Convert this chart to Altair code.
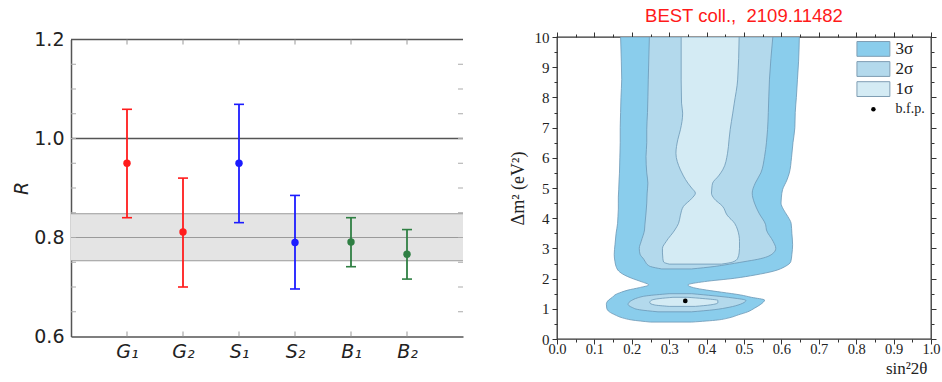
import altair as alt
import pandas as pd

# ---------------- left panel: ratio R for each measurement ----------------
labels = ["G₁", "G₂", "S₁", "S₂", "B₁", "B₂"]
source = ["GALLEX", "GALLEX", "SAGE", "SAGE", "BEST", "BEST"]
r_center = [0.950, 0.811, 0.950, 0.790, 0.791, 0.766]
r_low = [0.840, 0.700, 0.830, 0.696, 0.741, 0.716]
r_high = [1.059, 0.920, 1.069, 0.885, 0.840, 0.816]

band_low, band_mid, band_high = 0.753, 0.800, 0.848
unity = 1.0

r_domain = [0.6, 1.2]
r_labels = [0.6, 0.8, 1.0, 1.2]
r_minor = [0.65, 0.70, 0.75, 0.80, 0.85, 0.90, 0.95, 1.00, 1.05, 1.10, 1.15]

source_names = ["GALLEX", "SAGE", "BEST"]
source_colors = ["#ff1c1c", "#1c1cff", "#2f7f43"]

# ---------------- right panel: allowed regions in (sin^2 2θ, Δm^2) ----------------
# each region: Δm^2 rows with the left / right sin^2 2θ edge of the region
s3_y = [0.56, 0.63, 0.70, 0.80, 0.90, 1.02, 1.15, 1.29, 1.38, 1.46, 1.55, 1.62, 1.70, 1.79,
        1.90, 2.01, 2.12, 2.25, 2.40, 2.56, 2.80, 3.12, 3.50, 3.83, 4.06, 4.30, 4.50, 4.70,
        4.94, 5.27, 5.49, 6.00, 6.50, 7.00, 7.50, 8.00, 8.60, 9.20, 10.0]
s3_lo = [0.25, 0.20, 0.175, 0.155, 0.14, 0.133, 0.132, 0.138, 0.148, 0.155, 0.172, 0.19, 0.22, 0.245,
         0.225, 0.20, 0.18, 0.165, 0.158, 0.155, 0.153, 0.155, 0.158, 0.162, 0.163, 0.164, 0.164, 0.164,
         0.165, 0.166, 0.167, 0.168, 0.169, 0.169, 0.170, 0.171, 0.173, 0.172, 0.170]
s3_hi = [0.36, 0.43, 0.46, 0.485, 0.51, 0.528, 0.545, 0.555, 0.52, 0.49, 0.44, 0.40, 0.365, 0.35,
         0.394, 0.474, 0.53, 0.58, 0.61, 0.625, 0.628, 0.63, 0.628, 0.626, 0.617, 0.605, 0.599, 0.600,
         0.603, 0.615, 0.621, 0.627, 0.631, 0.636, 0.637, 0.640, 0.643, 0.646, 0.648]

s2_up_y = [2.32, 2.40, 2.45, 2.56, 2.64, 2.81, 3.00, 3.23, 3.61, 3.78, 4.17, 4.50, 4.83, 5.16,
           5.50, 6.04, 6.50, 6.93, 7.50, 8.58, 10.0]
s2_up_lo = [0.28, 0.25, 0.243, 0.236, 0.232, 0.222, 0.220, 0.225, 0.234, 0.235, 0.238, 0.240, 0.241, 0.243,
            0.240, 0.238, 0.240, 0.240, 0.242, 0.244, 0.247]
s2_up_hi = [0.36, 0.42, 0.447, 0.50, 0.537, 0.575, 0.585, 0.578, 0.560, 0.558, 0.540, 0.528, 0.522, 0.530,
            0.545, 0.555, 0.560, 0.563, 0.565, 0.568, 0.577]

s2_low_y = [0.90, 0.97, 1.05, 1.15, 1.28, 1.36, 1.43, 1.50]
s2_low_lo = [0.27, 0.22, 0.20, 0.19, 0.20, 0.215, 0.24, 0.30]
s2_low_hi = [0.36, 0.42, 0.46, 0.49, 0.505, 0.47, 0.42, 0.36]

s1_up_y = [2.48, 2.55, 2.67, 2.85, 3.00, 3.23, 3.61, 3.83, 4.10, 4.39, 4.65, 4.83, 5.00, 5.16,
           5.40, 5.60, 6.15, 6.60, 6.93, 7.48, 7.81, 8.58, 10.0]
s1_up_lo = [0.30, 0.285, 0.283, 0.282, 0.282, 0.292, 0.315, 0.325, 0.33, 0.338, 0.36, 0.37, 0.36, 0.35,
            0.338, 0.330, 0.318, 0.323, 0.330, 0.336, 0.333, 0.332, 0.332]
s1_up_hi = [0.44, 0.47, 0.483, 0.487, 0.488, 0.488, 0.483, 0.475, 0.455, 0.443, 0.42, 0.413, 0.414, 0.416,
            0.432, 0.443, 0.456, 0.460, 0.463, 0.470, 0.474, 0.483, 0.487]

s1_low_y = [1.08, 1.13, 1.20, 1.28, 1.34, 1.38]
s1_low_lo = [0.30, 0.26, 0.248, 0.252, 0.275, 0.31]
s1_low_hi = [0.37, 0.41, 0.43, 0.43, 0.39, 0.35]

best_fit_x = [0.343]
best_fit_y = [1.26]

legend_names = ["3σ", "2σ", "1σ"]
fill_3s, fill_2s, fill_1s = "#8acdec", "#b3d9ec", "#d4ebf4"
edge_color = "#6b97b5"

x_ticks = [0.0, 0.05, 0.1, 0.15, 0.2, 0.25, 0.3, 0.35, 0.4, 0.45, 0.5,
           0.55, 0.6, 0.65, 0.7, 0.75, 0.8, 0.85, 0.9, 0.95, 1.0]
y_ticks = [0, 0.5, 1, 1.5, 2, 2.5, 3, 3.5, 4, 4.5, 5, 5.5, 6, 6.5, 7, 7.5, 8, 8.5, 9, 9.5, 10]

# ======================= left chart =======================
pts = pd.DataFrame({"label": labels, "source": source, "R": r_center,
                    "lo": r_low, "hi": r_high})
r_scale = alt.Scale(domain=r_domain, nice=False, zero=False)
cat_scale = alt.Scale(type="point", padding=1)
src_color = alt.Color("source:N", scale=alt.Scale(domain=source_names, range=source_colors),
                      legend=None)
frame_gray = "#555555"

band = alt.Chart(pd.DataFrame({"lo": [band_low], "hi": [band_high]})).mark_rect(
    color="#e4e4e4").encode(
    x=alt.value(0), x2=alt.value("width"),
    y=alt.Y("lo:Q", scale=r_scale, axis=None), y2="hi:Q")

band_lines = alt.Chart(pd.DataFrame({"v": [band_low, band_mid, band_high]})).mark_rule(
    color="#9a9a9a", strokeWidth=1.2).encode(y=alt.Y("v:Q", scale=r_scale, axis=None))

ref_lines = alt.Chart(pd.DataFrame({"v": [unity, r_domain[1]]})).mark_rule(
    color=frame_gray, strokeWidth=1.5).encode(y=alt.Y("v:Q", scale=r_scale, axis=None))

side_ticks = pd.DataFrame({"v": r_minor})
ticks_l = alt.Chart(side_ticks).mark_tick(orient="horizontal", size=5, thickness=1,
                                          color="#aaaaaa", xOffset=2.5, opacity=1).encode(
    x=alt.value(0), y=alt.Y("v:Q", scale=r_scale, axis=None))
ticks_r = alt.Chart(side_ticks).mark_tick(orient="horizontal", size=5, thickness=1,
                                          color="#aaaaaa", xOffset=-2.5, opacity=1).encode(
    x=alt.value("width"), y=alt.Y("v:Q", scale=r_scale, axis=None))
cat_df = pd.DataFrame({"label": labels})
ticks_b = alt.Chart(cat_df).mark_tick(orient="vertical", size=5, thickness=1,
                                      color="#999999", yOffset=-2.5, opacity=1).encode(
    x=alt.X("label:N", sort=labels, scale=cat_scale, axis=None), y=alt.value("height"))
ticks_t = alt.Chart(cat_df).mark_tick(orient="vertical", size=5, thickness=1,
                                      color="#999999", yOffset=2.5, opacity=1).encode(
    x=alt.X("label:N", sort=labels, scale=cat_scale, axis=None), y=alt.value(0))

bars = alt.Chart(pts).mark_rule(strokeWidth=1.8).encode(
    x=alt.X("label:N", sort=labels, scale=cat_scale,
            axis=alt.Axis(title=None, labelAngle=0, labelFont="DejaVu Sans",
                          labelFontStyle="italic", labelFontSize=19, labelColor="#222222",
                          labelPadding=6, ticks=False, domainColor=frame_gray,
                          domainWidth=1.5)),
    y=alt.Y("lo:Q", scale=r_scale,
            axis=alt.Axis(values=r_labels, format=".1f", title="R",
                          titleFont="DejaVu Sans", titleFontStyle="italic",
                          titleFontWeight="normal", titleFontSize=19, titleColor="#222222",
                          titlePadding=2, labelFont="DejaVu Sans", labelFontSize=19,
                          labelColor="#222222", labelPadding=7, ticks=False,
                          domainColor=frame_gray, domainWidth=1.5, grid=False)),
    y2="hi:Q", color=src_color)

caps_lo = alt.Chart(pts).mark_tick(orient="horizontal", size=10, thickness=1.6, opacity=1).encode(
    x=alt.X("label:N", sort=labels, scale=cat_scale, axis=None),
    y=alt.Y("lo:Q", scale=r_scale, axis=None), color=src_color)
caps_hi = alt.Chart(pts).mark_tick(orient="horizontal", size=10, thickness=1.6, opacity=1).encode(
    x=alt.X("label:N", sort=labels, scale=cat_scale, axis=None),
    y=alt.Y("hi:Q", scale=r_scale, axis=None), color=src_color)
dots = alt.Chart(pts).mark_circle(size=55, opacity=1).encode(
    x=alt.X("label:N", sort=labels, scale=cat_scale, axis=None),
    y=alt.Y("R:Q", scale=r_scale, axis=None), color=src_color)

left = alt.layer(band, band_lines, ref_lines, ticks_l, ticks_r, ticks_b, ticks_t,
                 bars, caps_lo, caps_hi, dots).resolve_axis(
    x="independent", y="independent").properties(width=392, height=297)

# ======================= right chart =======================
sx = alt.Scale(domain=[0, 1], nice=False, zero=False)
sy = alt.Scale(domain=[0, 10], nice=False, zero=False)
serif = "Liberation Serif"
x_major = "abs(datum.value*10 - round(datum.value*10)) < 0.001"
y_major = "abs(datum.value - round(datum.value)) < 0.001"


def region(ys, los, his, fill):
    df = pd.DataFrame({"y": ys, "lo": los, "hi": his})
    return alt.Chart(df).mark_area(
        orient="horizontal", interpolate="monotone", fill=fill, fillOpacity=1,
        stroke=edge_color, strokeWidth=0.8, clip=True).encode(
        y=alt.Y("y:Q", scale=sy, axis=None),
        x=alt.X("lo:Q", scale=sx, axis=None),
        x2="hi:Q")


# axes carried by an invisible layer
axis_df = pd.DataFrame({"x": [0.0, 1.0], "y": [0.0, 10.0]})
main_axes = alt.Chart(axis_df).mark_point(opacity=0).encode(
    x=alt.X("x:Q", scale=sx, axis=alt.Axis(
        values=x_ticks, labelExpr=f"{x_major} ? format(datum.value, '.1f') : ''",
        tickSize={"condition": {"test": x_major, "value": 5}, "value": 3},
        title="sin²2θ", titleFont=serif, titleFontSize=17, titleFontWeight="normal",
        titleColor="#222222", titleAlign="right", titleBaseline="middle",
        titleX=370, titleY=29,
        labelFont=serif, labelFontSize=14.5, labelColor="#222222", labelPadding=-2,
        labelFlush=False, labelOverlap=False, domain=False, grid=False,
        tickColor="#333333", tickWidth=1)),
    y=alt.Y("y:Q", scale=sy, axis=alt.Axis(
        values=y_ticks, labelExpr=f"{y_major} ? format(datum.value, 'd') : ''",
        tickSize={"condition": {"test": y_major, "value": 5}, "value": 3},
        title="Δm² (eV²)", titleFont=serif, titleFontSize=18, titleFontWeight="normal",
        titleColor="#222222", titlePadding=7, labelFont=serif, labelFontSize=15,
        labelColor="#222222", labelPadding=3, labelFlush=False, labelOverlap=False,
        domain=False, grid=False, tickColor="#333333", tickWidth=1)))

mirror_axes = alt.Chart(axis_df).mark_point(opacity=0).encode(
    x=alt.X("x:Q", scale=sx, axis=alt.Axis(
        orient="top", values=x_ticks, labels=False, title=None, domain=False, grid=False,
        tickSize={"condition": {"test": x_major, "value": 5}, "value": 3},
        tickColor="#333333", tickWidth=1)),
    y=alt.Y("y:Q", scale=sy, axis=alt.Axis(
        orient="right", values=y_ticks, labels=False, title=None, domain=False, grid=False,
        tickSize={"condition": {"test": y_major, "value": 5}, "value": 3},
        tickColor="#333333", tickWidth=1)))

bfp = alt.Chart(pd.DataFrame({"x": best_fit_x, "y": best_fit_y})).mark_circle(
    size=22, color="#000000", opacity=1).encode(
    x=alt.X("x:Q", scale=sx, axis=None), y=alt.Y("y:Q", scale=sy, axis=None))

# legend block in the upper right corner
leg_x0, leg_x1, leg_text_x = 0.802, 0.890, 0.905
leg_top, leg_h, leg_step = 9.85, 0.49, 0.665
leg = pd.DataFrame({
    "name": legend_names,
    "fill": [fill_3s, fill_2s, fill_1s],
    "top": [leg_top - i * leg_step for i in range(3)],
})
leg["bot"] = leg["top"] - leg_h
leg["mid"] = leg["top"] - leg_h / 2
leg["x0"], leg["x1"], leg["tx"] = leg_x0, leg_x1, leg_text_x

leg_boxes = alt.Chart(leg).mark_rect(stroke="#7f9db3", strokeWidth=1).encode(
    x=alt.X("x0:Q", scale=sx, axis=None), x2="x1:Q",
    y=alt.Y("top:Q", scale=sy, axis=None), y2="bot:Q",
    fill=alt.Fill("fill:N", scale=None))
leg_text = alt.Chart(leg).mark_text(align="left", baseline="middle", font=serif,
                                    fontSize=17, color="#222222").encode(
    x=alt.X("tx:Q", scale=sx, axis=None), y=alt.Y("mid:Q", scale=sy, axis=None),
    text="name:N")
bfp_row = leg_top - 3 * leg_step - 0.25
leg_bfp = pd.DataFrame({"x": [(leg_x0 + leg_x1) / 2], "tx": [leg_text_x],
                        "y": [bfp_row], "t": ["b.f.p."]})
leg_dot = alt.Chart(leg_bfp).mark_circle(size=20, color="#000000", opacity=1).encode(
    x=alt.X("x:Q", scale=sx, axis=None), y=alt.Y("y:Q", scale=sy, axis=None))
leg_dot_text = alt.Chart(leg_bfp).mark_text(align="left", baseline="middle", font=serif,
                                            fontSize=14, color="#222222").encode(
    x=alt.X("tx:Q", scale=sx, axis=None), y=alt.Y("y:Q", scale=sy, axis=None), text="t:N")

right = alt.layer(
    main_axes,
    region(s3_y, s3_lo, s3_hi, fill_3s),
    region(s2_up_y, s2_up_lo, s2_up_hi, fill_2s),
    region(s2_low_y, s2_low_lo, s2_low_hi, fill_2s),
    region(s1_up_y, s1_up_lo, s1_up_hi, fill_1s),
    region(s1_low_y, s1_low_lo, s1_low_hi, fill_1s),
    bfp, leg_boxes, leg_text, leg_dot, leg_dot_text, mirror_axes,
).resolve_axis(x="independent", y="independent").properties(
    width=374, height=302,
    view=alt.ViewBackground(stroke="#333333", strokeWidth=1.3),
    title=alt.TitleParams("BEST coll.,\u00a0 2109.11482", color="#ff1a1a",
                          font="Liberation Sans", fontSize=18.5, fontWeight="normal",
                          anchor="middle", offset=5),
)

chart = alt.hconcat(left, right, spacing=94, bounds="flush", center=True).properties(
    padding={"left": 12, "top": 5, "right": 0, "bottom": 0},
).configure_view(strokeWidth=0)

chart.save("out.html", embed_options={"renderer": "svg", "actions": False})
